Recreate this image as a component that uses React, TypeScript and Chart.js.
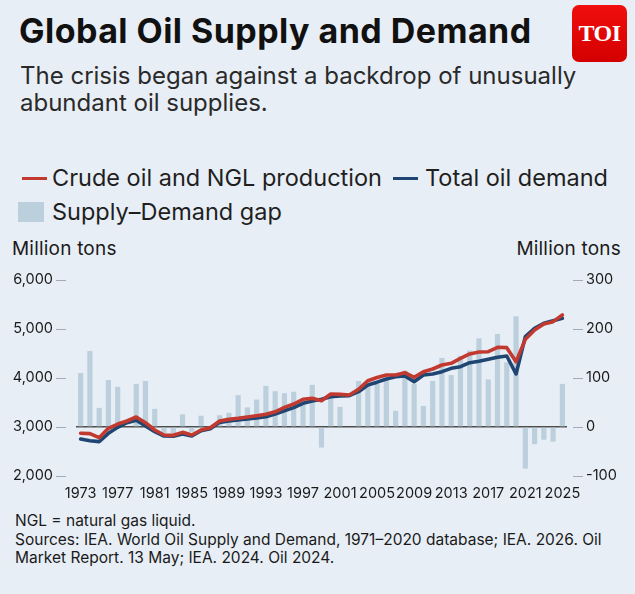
import React, { useEffect, useRef } from "react";
import { Chart, registerables } from "chart.js";

Chart.register(...registerables);

const years = [
  "1973","1974","1975","1976","1977","1978","1979","1980","1981","1982",
  "1983","1984","1985","1986","1987","1988","1989","1990","1991","1992",
  "1993","1994","1995","1996","1997","1998","1999","2000","2001","2002",
  "2003","2004","2005","2006","2007","2008","2009","2010","2011","2012",
  "2013","2014","2015","2016","2017","2018","2019","2020","2021","2022",
  "2023","2024","2025",
];

const supply = [
  2871, 2865, 2782, 2973, 3061, 3122, 3204, 3088, 2939, 2837,
  2830, 2891, 2837, 2939, 2986, 3122, 3156, 3177, 3204, 3231,
  3259, 3310, 3401, 3469, 3565, 3585, 3537, 3673, 3666, 3653,
  3769, 3945, 4010, 4061, 4061, 4109, 4014, 4129, 4184, 4265,
  4299, 4401, 4490, 4530, 4537, 4626, 4619, 4333, 4789, 4980,
  5102, 5150, 5286,
];

const demand = [
  2755, 2721, 2701, 2871, 2993, 3088, 3136, 3020, 2905, 2816,
  2810, 2857, 2816, 2925, 2966, 3095, 3122, 3143, 3163, 3184,
  3211, 3265, 3333, 3395, 3483, 3531, 3565, 3619, 3633, 3639,
  3721, 3857, 3915, 3980, 4027, 4041, 3925, 4061, 4082, 4129,
  4197, 4231, 4313, 4340, 4381, 4422, 4449, 4082, 4844, 5014,
  5116, 5170, 5218,
];

const gap = [
  110, 155, 39, 96, 82, 0, 88, 94, 37, -13,
  -13, 26, -10, 23, 0, 24, 29, 65, 40, 56,
  84, 73, 69, 72, 50, 86, -42, 66, 41, 0,
  94, 86, 89, 96, 33, 115, 88, 43, 94, 141,
  106, 145, 156, 181, 97, 190, 132, 226, -85, -35,
  -26, -30, 88,
];

const labelYears = ["1973","1977","1981","1985","1989","1993","1997","2001","2005","2009","2013","2017","2021","2025"];

const BG = "#e8eef5";
const RED = "#c23a2f";
const BLUE = "#1f4673";
const BAR = "#bccfdc";
const FONT = "Inter, 'Open Sans', sans-serif";

const tickMarks = {
  id: "tickMarks",
  afterDraw(chart: any) {
    const { ctx, chartArea } = chart;
    const y = chart.scales.y;
    const y1 = chart.scales.y1;
    ctx.save();
    ctx.strokeStyle = "#a3acb6";
    ctx.lineWidth = 1;
    y.ticks.forEach((t: any) => {
      const py = Math.round(y.getPixelForValue(t.value)) + 0.5;
      ctx.beginPath();
      ctx.moveTo(chartArea.left - 20, py);
      ctx.lineTo(chartArea.left - 10, py);
      ctx.stroke();
    });
    y1.ticks.forEach((t: any) => {
      const py = Math.round(y1.getPixelForValue(t.value)) + 0.5;
      ctx.beginPath();
      ctx.moveTo(chartArea.right + 6, py);
      ctx.lineTo(chartArea.right + 16, py);
      ctx.stroke();
    });
    ctx.restore();
  },
};

function OilChart() {
  const ref = useRef<HTMLCanvasElement>(null);
  useEffect(() => {
    if (!ref.current) return;
    const chart = new Chart(ref.current, {
      type: "bar",
      data: {
        labels: years,
        datasets: [
          {
            type: "line",
            label: "Crude oil and NGL production",
            data: supply,
            yAxisID: "y",
            borderColor: RED,
            backgroundColor: RED,
            borderWidth: 3.6,
            pointRadius: 0,
            tension: 0,
            borderJoinStyle: "round",
            borderCapStyle: "round",
            order: 0,
          } as any,
          {
            type: "line",
            label: "Total oil demand",
            data: demand,
            yAxisID: "y",
            borderColor: BLUE,
            backgroundColor: BLUE,
            borderWidth: 3.6,
            pointRadius: 0,
            tension: 0,
            borderJoinStyle: "round",
            borderCapStyle: "round",
            order: 1,
          } as any,
          {
            type: "bar",
            label: "Supply–Demand gap",
            data: gap,
            yAxisID: "y1",
            backgroundColor: BAR,
            borderWidth: 0,
            barPercentage: 0.56,
            categoryPercentage: 1,
            order: 2,
          } as any,
        ],
      },
      options: {
        responsive: false,
        animation: false,
        layout: { padding: { top: 15, left: 0, right: 0, bottom: 0 } },
        plugins: {
          legend: { display: false },
          tooltip: { enabled: false },
        },
        scales: {
          x: {
            offset: true,
            grid: { display: false, drawTicks: false },
            border: { display: false },
            ticks: {
              autoSkip: false,
              maxRotation: 0,
              minRotation: 0,
              padding: 9,
              color: "#1a1a1a",
              font: { family: FONT, size: 14.5 },
              callback: function (this: any, value: any) {
                const l = this.getLabelForValue(value);
                return labelYears.includes(l) ? l : "";
              },
            },
            afterFit: (s: any) => {
              s.height = 29;
            },
          },
          y: {
            position: "left",
            min: 2000,
            max: 6000,
            grid: { display: false, drawTicks: true, tickLength: 20 },
            border: { display: false },
            ticks: {
              stepSize: 1000,
              padding: 3,
              color: "#1a1a1a",
              font: { family: FONT, size: 14.5 },
            },
            afterFit: (s: any) => {
              s.width = 76;
            },
          },
          y1: {
            position: "right",
            min: -100,
            max: 300,
            grid: {
              drawOnChartArea: true,
              drawTicks: true,
              tickLength: 16,
              tickColor: "rgba(0,0,0,0)",
              color: (c: any) => (c.tick && c.tick.value === 0 ? "#4d4d4d" : "rgba(0,0,0,0)"),
              lineWidth: 1.4,
            },
            border: { display: false },
            ticks: {
              stepSize: 100,
              padding: 3,
              color: "#1a1a1a",
              font: { family: FONT, size: 14.5 },
            },
            afterFit: (s: any) => {
              s.width = 68;
            },
          },
        },
      },
      plugins: [tickMarks],
    });
    return () => chart.destroy();
  }, []);
  return <canvas ref={ref} width={635} height={240} style={{ display: "block" }} />;
}

export default function App() {
  const abs = (top: number, left: number, extra: any = {}) => ({
    position: "absolute" as const,
    top,
    left,
    ...extra,
  });
  return (
    <div
      style={{
        position: "fixed",
        left: 0,
        top: 0,
        width: 635,
        height: 594,
        background: BG,
        fontFamily: FONT,
        color: "#1a1a1a",
        overflow: "hidden",
      }}
    >
      <div style={abs(11, 19, { fontSize: 34, fontWeight: 700, lineHeight: "40px", color: "#111", letterSpacing: "0.45px", whiteSpace: "nowrap" })}>
        Global Oil Supply and Demand
      </div>
      <div
        style={abs(5, 572, {
          width: 55,
          height: 57,
          borderRadius: 7,
          background: "linear-gradient(180deg, #f00e0e 0%, #d40000 100%)",
          color: "#fff",
          fontFamily: "'Liberation Serif', 'DejaVu Serif', serif",
          fontWeight: 700,
          fontSize: 24,
          display: "flex",
          alignItems: "center",
          justifyContent: "center",
          letterSpacing: "-0.5px",
        })}
      >
        TOI
      </div>
      <div style={abs(62, 20, { fontSize: 24, lineHeight: "27px", color: "#2a2a2a", width: 610, whiteSpace: "nowrap" })}>
        The crisis began against a backdrop of unusually
        <br />
        abundant oil supplies.
      </div>
      <div style={abs(166, 0, { height: 24, fontSize: 23.5, color: "#1f1f1f", whiteSpace: "nowrap" })}>
        <span style={{ position: "absolute", left: 22, top: 11, width: 25, height: 3, background: RED }} />
        <span style={{ position: "absolute", left: 52, top: 0, lineHeight: "24px" }}>Crude oil and NGL production</span>
        <span style={{ position: "absolute", left: 393, top: 11, width: 25, height: 3, background: BLUE }} />
        <span style={{ position: "absolute", left: 425, top: 0, lineHeight: "24px" }}>Total oil demand</span>
      </div>
      <div style={abs(200, 0, { height: 24, fontSize: 23.5, color: "#1f1f1f", whiteSpace: "nowrap" })}>
        <span style={{ position: "absolute", left: 18, top: 2, width: 26, height: 20, background: BAR }} />
        <span style={{ position: "absolute", left: 52, top: 0, lineHeight: "24px" }}>Supply–Demand gap</span>
      </div>
      <div style={abs(239, 12, { fontSize: 19, lineHeight: "20px", letterSpacing: "0.2px", whiteSpace: "nowrap" })}>Million tons</div>
      <div style={abs(239, 0, { width: 621, textAlign: "right", fontSize: 19, lineHeight: "20px", letterSpacing: "0.2px", whiteSpace: "nowrap" })}>
        Million tons
      </div>
      <div style={abs(265, 0, { width: 635, height: 240 })}>
        <OilChart />
      </div>
      <div style={abs(512, 15, { fontSize: 15.5, lineHeight: "18.7px", color: "#1a1a1a", width: 620, whiteSpace: "nowrap" })}>
        NGL = natural gas liquid.
        <br />
        Sources: IEA. World Oil Supply and Demand, 1971–2020 database; IEA. 2026. Oil
        <br />
        Market Report. 13 May; IEA. 2024. Oil 2024.
      </div>
    </div>
  );
}
